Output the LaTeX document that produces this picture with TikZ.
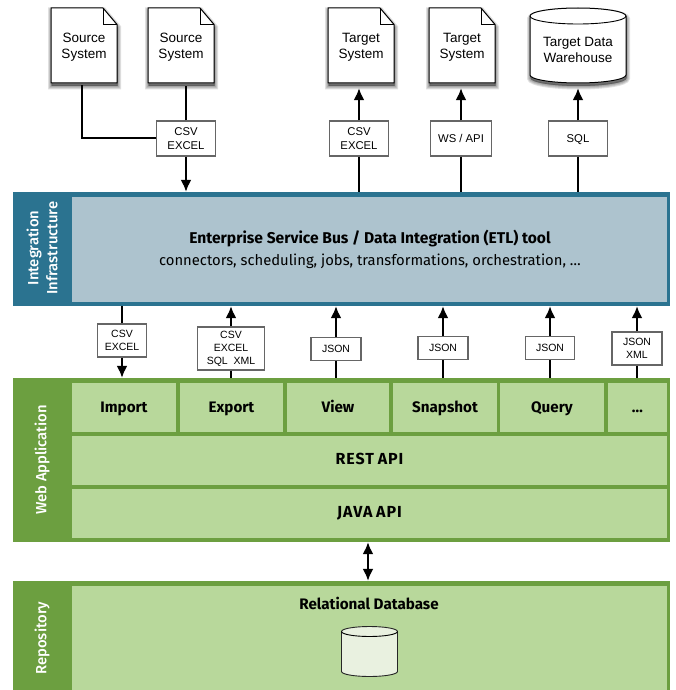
\documentclass[tikz,border=0pt]{standalone}
\usepackage{fontspec}
\setmainfont{Fira Sans}
\newfontfamily\labelfont{Liberation Sans}
\newfontfamily\bandfont{Fira Sans Medium}
\usetikzlibrary{arrows.meta}
\definecolor{tealdark}{HTML}{2B7390}
\definecolor{teallight}{HTML}{ADC3CE}
\definecolor{greendark}{HTML}{6C9F40}
\definecolor{greenlight}{HTML}{B8D89B}
\definecolor{dbfill}{HTML}{E9F1E0}
\tikzset{
  softlayer/.style={preaction={draw=black,fill=black,line width=#1,opacity=.12,transform canvas={xshift=.5pt,yshift=-3pt}}},
  softshadow/.style={softlayer=7pt,softlayer=5pt,softlayer=3pt,softlayer=1pt},
  docline/.style={draw=black,line width=1pt,fill=white,softshadow},
  doctext/.style={minimum width=66,minimum height=75,align=center,yshift=-2,font=\labelfont\fontsize{13.5}{16}\selectfont},
  fmtbox/.style={draw=black!60,line width=1.2pt,fill=white,inner sep=0pt,align=center,font=\labelfont\fontsize{10.5}{13}\selectfont},
  topfmt/.style={fmtbox,font=\labelfont\fontsize{11.3}{14}\selectfont},
  oneline/.style={text height=8pt,text depth=0pt},
  layertext/.style={rotate=90,align=center,text=white,font=\bandfont\fontsize{14.8}{19}\selectfont},
  cell/.style={fill=greenlight,inner sep=0pt,text height=11.5pt,text depth=2.5pt,font=\bfseries\fontsize{15.2}{17}\selectfont},
  widecell/.style={cell,minimum width=595,minimum height=49,font=\bfseries\fontsize{16}{18}\selectfont\addfontfeature{LetterSpace=6}},
  link/.style={line width=1.9pt,black},
  flow/.style={link,-{Latex[length=12pt,width=11pt]}},
  flowboth/.style={link,{Latex[length=12pt,width=11pt]}-{Latex[length=12pt,width=11pt]}}
}
\newcommand{\docshape}[3]{
  \draw[docline,shift={(#2)}] (-33,-37.5)--(19,-37.5)--(33,-21)--(33,37.5)--(-33,37.5)--cycle;
  \draw[line width=.7pt,shift={(#2)}] (19,-37.5)--(19,-21)--(33,-21);
  \node[doctext] (#1) at (#2) {#3};
}
% centre, half width, half height, end radius, style
\newcommand{\cylshape}[5]{
  \draw[#5,shift={(#1)}] (-#2,-#3+#4)--(-#2,#3-#4) arc[start angle=180,end angle=0,x radius=#2,y radius=#4]
    --(#2,-#3+#4) arc[start angle=0,end angle=-180,x radius=#2,y radius=#4]--cycle;
  \draw[draw=black,line width=.9pt,shift={(#1)}] (-#2,-#3+#4) arc[start angle=180,end angle=0,x radius=#2,y radius=#4];
}
\begin{document}
\begin{tikzpicture}[x=1pt,y=-1pt]
\useasboundingbox (0,0) rectangle (675,690);
% integration layer
\node[fill=tealdark,minimum width=657,minimum height=114,inner sep=0pt] (integ) at (341.5,249) {};
\node[fill=teallight,minimum width=595,minimum height=105,inner sep=0pt] (integin) at (369.5,249.5) {};
\node[layertext] (integlab) at (42,248) {Integration\\Infrastructure};
\node[font=\bfseries\fontsize{15.6}{18}\selectfont] (integtitle) at (370,239) {Enterprise Service Bus / Data Integration (ETL) tool};
\node[font=\fontsize{14.8}{17}\selectfont] (integsub) at (370,261) {connectors, scheduling, jobs, transformations, orchestration, \dots};
% web application layer
\node[fill=greendark,minimum width=657,minimum height=164,inner sep=0pt] (web) at (341.5,460) {};
\node[layertext] (weblab) at (42,460) {Web Application};
\node[cell,minimum width=104,minimum height=49] (import) at (124,407.5) {Import};
\node[cell,minimum width=103,minimum height=49] (export) at (231.5,407.5) {Export};
\node[cell,minimum width=102,minimum height=49] (view) at (338,407.5) {View};
\node[cell,minimum width=104,minimum height=49] (snapshot) at (445,407.5) {Snapshot};
\node[cell,minimum width=104,minimum height=49] (query) at (552,407.5) {Query};
\node[cell,minimum width=59,minimum height=49] (more) at (637.5,407.5) {\dots};
\node[widecell] (rest) at (369.5,460) {REST\hspace{-1pt} API};
\node[widecell] (java) at (369.5,513) {JAVA\hspace{-1pt} API};
% repository layer
\node[fill=greendark,minimum width=657,minimum height=112,inner sep=0pt] (repo) at (341.5,637) {};
\node[fill=greenlight,minimum width=595,minimum height=107,inner sep=0pt] (repoin) at (369.5,639.5) {};
\node[layertext] (repolab) at (42,638) {Repository};
\node[font=\bfseries\fontsize{15.2}{17}\selectfont] (dbtitle) at (369,603.5) {Relational Database};
\cylshape{369.5,651.5}{28}{25}{5}{draw=black!85,line width=.9pt,fill=dbfill}
\node[minimum width=56,minimum height=50,inner sep=0pt] (db) at (369.5,651.5) {};
% sources and targets
\docshape{srca}{84,45.5}{Source\\System}
\docshape{srcb}{181,45.5}{Source\\System}
\docshape{tgta}{361,45.5}{Target\\System}
\docshape{tgtb}{462,45.5}{Target\\System}
\cylshape{578,45.5}{48}{37.5}{8}{docline}
\node[minimum width=96,minimum height=75,inner sep=0pt,align=center,font=\labelfont\fontsize{13.5}{16}\selectfont] (dwh) at (578,49.5) {Target Data\\Warehouse};
% format boxes
\node[topfmt,minimum width=59,minimum height=35] (csvsrc) at (186,138.5) {CSV\\EXCEL};
\node[topfmt,minimum width=59,minimum height=35] (csvtgt) at (359,138.5) {CSV\\EXCEL};
\node[topfmt,minimum width=61,minimum height=35] (wsapi) at (461,138.5) {WS / API};
\node[topfmt,oneline,minimum width=59,minimum height=35] (sql) at (578,138.5) {SQL};
\node[fmtbox,minimum width=49,minimum height=33] (csvimp) at (122,340.5) {CSV\\EXCEL};
\node[fmtbox,minimum width=67,minimum height=43] (csvexp) at (231,348.5) {CSV\\EXCEL\\SQL~~XML};
\node[fmtbox,minimum width=50,minimum height=23] (jsonview) at (336,349) {JSON};
\node[fmtbox,minimum width=50,minimum height=23] (jsonsnap) at (443,348) {JSON};
\node[fmtbox,minimum width=49,minimum height=23] (jsonqry) at (550,348) {JSON};
\node[fmtbox,minimum width=50,minimum height=33] (jsonxml) at (637,348.5) {JSON\\XML};
% connectors
\draw[link] ([xshift=-2]srca.south)|-([yshift=.5]csvsrc.west);
\draw[link,shorten >=1] (csvsrc.north)--(csvsrc.north|-srcb.south);
\draw[flow] (csvsrc.south)--(csvsrc.south|-integ.north);
\draw[link] (csvtgt.south)--(csvtgt.south|-integ.north);
\draw[flow,shorten >=3] (csvtgt.north)--(csvtgt.north|-tgta.south);
\draw[link] (wsapi.south)--(wsapi.south|-integ.north);
\draw[flow,shorten >=3] (wsapi.north)--(wsapi.north|-tgtb.south);
\draw[link] (sql.south)--(sql.south|-integ.north);
\draw[flow,shorten >=1] (sql.north)--(sql.north|-dwh.south);
\draw[link] (csvimp.north)--(csvimp.north|-integ.south);
\draw[flow] (csvimp.south)--(csvimp.south|-web.north);
\foreach \fmt in {csvexp,jsonview,jsonsnap,jsonqry,jsonxml}{
  \draw[link] (\fmt.south)--(\fmt.south|-web.north);
  \draw[flow] (\fmt.north)--(\fmt.north|-integ.south);
}
\coordinate (javalow) at ([xshift=-1.5]java.south-|db.north);
\draw[flowboth] (javalow|-web.south)--(javalow|-repo.north);
\end{tikzpicture}
\end{document}
